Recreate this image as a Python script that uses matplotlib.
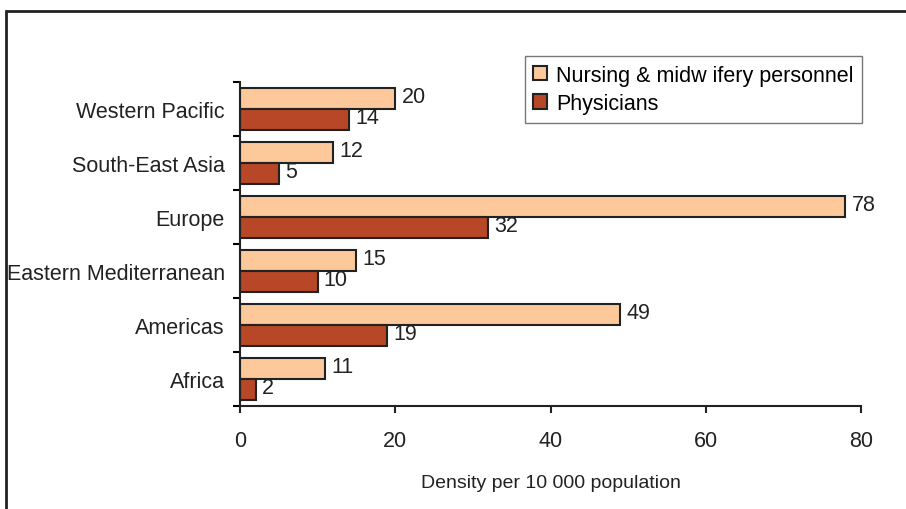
import numpy as np
import matplotlib.pyplot as plt
from matplotlib.patches import Rectangle

plt.rcParams['font.family'] = ['Liberation Sans', 'DejaVu Sans']

# density per 10 000 population, by WHO region (bottom to top)
regions = ['Africa', 'Americas', 'Eastern Mediterranean', 'Europe',
           'South-East Asia', 'Western Pacific']
nursing = [11, 49, 15, 78, 12, 20]
physicians = [2, 19, 10, 32, 5, 14]

nurse_col = '#FDC99B'
phys_col = '#B74726'
fs = 15.5

fig = plt.figure(figsize=(9.06, 5.10), dpi=100)
ax = fig.add_axes([240/906, 1 - 407/510, (861 - 240)/906, (407 - 83)/510])

y = np.arange(len(regions))
h = 0.39
b1 = ax.barh(y + h/2, nursing, height=h, color=nurse_col, edgecolor='#222222',
             linewidth=1.5, label='Nursing & midw ifery personnel')
b2 = ax.barh(y - h/2, physicians, height=h, color=phys_col, edgecolor='#222222',
             linewidth=1.5, label='Physicians')

for bars, vals in ((b1, nursing), (b2, physicians)):
    for bar, v in zip(bars, vals):
        ax.text(v + 0.8, bar.get_y() + bar.get_height()/2 + 0.04, str(v),
                va='center', ha='left', fontsize=fs, color='#222222')

ax.set_xlim(0, 80)
ax.set_ylim(-0.5, len(regions) - 0.5)
ax.set_xticks([0, 20, 40, 60, 80])
ax.tick_params(axis='x', direction='out', length=5, width=1.5, pad=12,
               labelsize=fs, colors='#222222')

# region names between the separator ticks
ax.set_yticks(np.arange(-0.5, len(regions)), minor=False)
ax.set_yticklabels([])
ax.set_yticks(y, minor=True)
ax.set_yticklabels(regions, minor=True, fontsize=fs, color='#222222')
ax.tick_params(axis='y', which='major', direction='out', length=5, width=1.5)
ax.tick_params(axis='y', which='minor', length=0, pad=11)

for s in ('top', 'right'):
    ax.spines[s].set_visible(False)
for s in ('left', 'bottom'):
    ax.spines[s].set_linewidth(1.5)
    ax.spines[s].set_color('#222222')

ax.set_xlabel('Density per 10 000 population', fontsize=14, color='#222222',
              labelpad=17)

leg = fig.legend(loc='upper right', bbox_to_anchor=(862/906, 1 - 57/510),
                 borderaxespad=0, fontsize=fs, frameon=True, fancybox=False,
                 handlelength=0.65, handleheight=0.65, handletextpad=0.4,
                 borderpad=0.4, labelspacing=0.35)
leg.get_frame().set_edgecolor('#555555')
leg.get_frame().set_linewidth(1.0)

# outer frame around the chart area
fig.patches.append(Rectangle((6/906, -0.2), 2.0, 1.2 - 12/510,
                             transform=fig.transFigure, fill=False,
                             edgecolor='#222222', linewidth=2.0))

fig.savefig('out.png', dpi=100)
